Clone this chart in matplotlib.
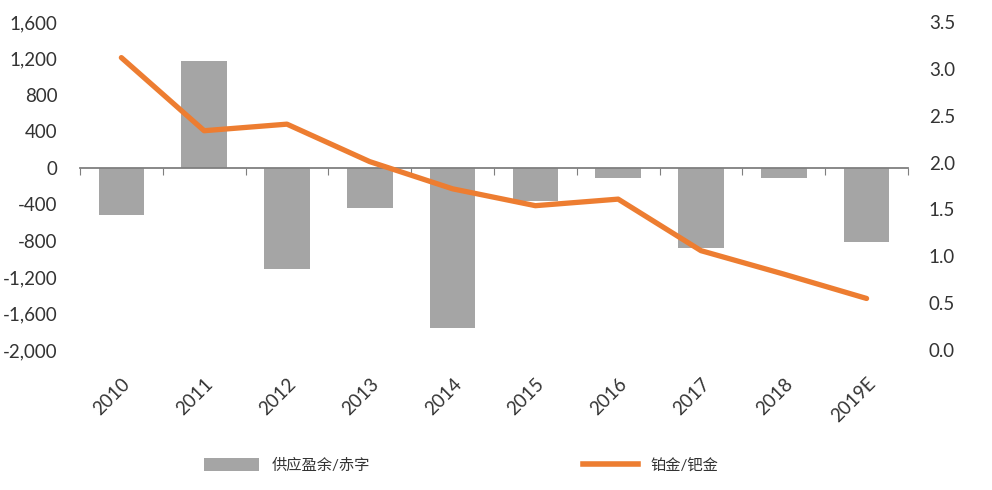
import matplotlib.pyplot as plt
from matplotlib.patches import Patch
from matplotlib.lines import Line2D
import numpy as np

plt.rcParams['font.family'] = ['Lato', 'Noto Sans CJK SC', 'DejaVu Sans']

# dados
anos = ['2010', '2011', '2012', '2013', '2014', '2015', '2016', '2017', '2018', '2019E']
saldo = [-520, 1170, -1110, -445, -1760, -360, -110, -880, -110, -815]      # 供应盈余/赤字
razao = [3.12, 2.34, 2.41, 2.01, 1.72, 1.54, 1.61, 1.06, 0.81, 0.55]       # 铂金/钯金

ticks_esq = [-2000, -1600, -1200, -800, -400, 0, 400, 800, 1200, 1600]
ticks_dir = [0.0, 0.5, 1.0, 1.5, 2.0, 2.5, 3.0, 3.5]

cinza = '#A5A5A5'
laranja = '#ED7D31'
texto = '#333333'

fig = plt.figure(figsize=(9.92, 4.9), dpi=100)
ax = fig.add_axes([0.0806, 0.2857, 0.8347, 0.6694])
x = np.arange(len(anos))

ax.bar(x, saldo, width=0.55, color=cinza, zorder=2)
ax.set_xlim(-0.5, len(anos) - 0.5)
ax.set_ylim(-2000, 1600)
ax.set_yticks(ticks_esq)
ax.set_yticklabels([f'{v:,}' for v in ticks_esq])
ax.tick_params(axis='y', length=0, pad=16, labelsize=13.5, labelcolor=texto)
for nome in ['top', 'left', 'right']:
    ax.spines[nome].set_visible(False)

# eixo do zero com marcas entre categorias
ax.spines['bottom'].set_position(('data', 0))
ax.spines['bottom'].set_color('#7F7F7F')
ax.spines['bottom'].set_linewidth(1.3)
ax.set_xticks(np.arange(-0.5, len(anos), 1.0))
ax.tick_params(axis='x', direction='out', length=5, color='#7F7F7F', labelbottom=False)

# rótulos dos anos embaixo
rot = ax.secondary_xaxis('bottom')
rot.set_xticks(x)
rot.set_xticklabels(anos, rotation=45, ha='right', rotation_mode='anchor')
rot.tick_params(length=0, pad=18, labelsize=13.5, labelcolor=texto)
rot.spines['bottom'].set_visible(False)

ax2 = ax.twinx()
ax2.plot(x, razao, color=laranja, linewidth=3.8, solid_capstyle='round', zorder=3)
ax2.set_ylim(0, 3.5)
ax2.set_yticks(ticks_dir)
ax2.set_yticklabels([f'{v:.1f}' for v in ticks_dir])
ax2.tick_params(axis='y', length=0, pad=15, labelsize=13.5, labelcolor=texto)
for s in ax2.spines.values():
    s.set_visible(False)

handles = [Patch(facecolor=cinza, edgecolor='none'),
           Line2D([0], [0], color=laranja, linewidth=4)]
fig.legend(handles, ['供应盈余/赤字', '铂金/钯金'], loc='center',
           bbox_to_anchor=(0.465, 0.05), ncol=2, frameon=False,
           fontsize=11, handlelength=3.6, handleheight=0.9,
           columnspacing=14, labelcolor=texto)

plt.savefig('out.png', dpi=100)
